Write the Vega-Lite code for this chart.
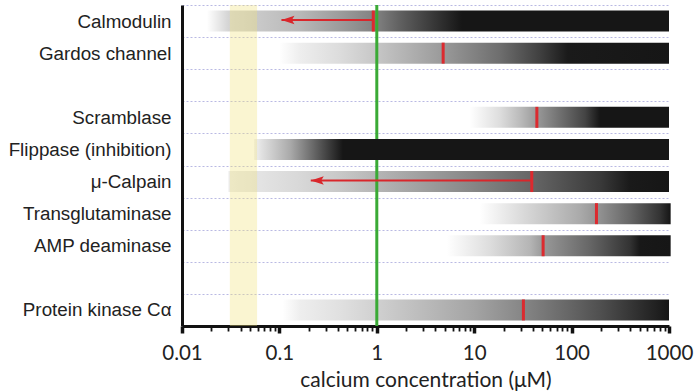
{
  "$schema": "https://vega.github.io/schema/vega-lite/v6.json",
  "width": 487,
  "height": 321,
  "autosize": {"type": "none"},
  "padding": {"left": 182, "top": 5, "right": 25, "bottom": 66},
  "background": "white",
  "config": {
    "view": {"stroke": null},
    "axisX": {
      "labelFont": "Lato", "labelFontSize": 20.5, "labelColor": "#222",
      "titleFont": "Lato", "titleFontSize": 21, "titleColor": "#222", "titleFontWeight": "normal",
      "domainColor": "#111", "domainWidth": 3, "tickColor": "#111", "grid": false, "labelFlush": false
    },
    "axisY": {
      "labelFont": "Liberation Sans", "labelFontSize": 18.8, "labelColor": "#222",
      "domainColor": "#111", "domainWidth": 3, "ticks": false, "labelPadding": 11,
      "grid": true, "gridColor": "#a8a8dc", "gridDash": [2, 2], "gridWidth": 1, "gridOpacity": 0.8
    }
  },
  "datasets": {
    "enzymes": [
      {"enzyme": "Calmodulin", "start": 0.018, "end": 1000, "tick": 0.92, "arrowTo": 0.105},
      {"enzyme": "Gardos channel", "start": 0.1, "end": 1000, "tick": 4.8, "arrowTo": null},
      {"enzyme": "Scramblase", "start": 9, "end": 1000, "tick": 44, "arrowTo": null},
      {"enzyme": "Flippase (inhibition)", "start": 0.055, "end": 1000, "tick": null, "arrowTo": null},
      {"enzyme": "μ-Calpain", "start": 0.03, "end": 1000, "tick": 39, "arrowTo": 0.21},
      {"enzyme": "Transglutaminase", "start": 11.4, "end": 1040, "tick": 180, "arrowTo": null},
      {"enzyme": "AMP deaminase", "start": 5.2, "end": 1040, "tick": 51, "arrowTo": null},
      {"enzyme": "Protein kinase Cα", "start": 0.108, "end": 1000, "tick": 32, "arrowTo": null}
    ],
    "resting": [{"calcium": 1}],
    "band": [{"from": 0.031, "to": 0.059}]
  },
  "layer": [
    {
      "data": {"name": "enzymes"},
      "transform": [{"filter": "datum.enzyme === 'Calmodulin'"}],
      "mark": {"type": "bar", "size": 21, "color": {"gradient": "linear", "stops": [
        {"offset": 0, "color": "#ffffff"}, {"offset": 0.046, "color": "#d5d5d5"},
        {"offset": 0.201, "color": "#b8b8b8"}, {"offset": 0.288, "color": "#9c9c9c"},
        {"offset": 0.368, "color": "#808080"}, {"offset": 0.418, "color": "#606060"},
        {"offset": 0.552, "color": "#161616"}, {"offset": 1, "color": "#161616"}]}},
      "encoding": {
        "x": {"field": "start", "type": "quantitative",
          "scale": {"type": "log", "domain": [0.01, 1000], "nice": false},
          "axis": {
            "title": "calcium concentration (μM)",
            "values": [0.01,0.02,0.03,0.04,0.05,0.06,0.07,0.08,0.09,0.1,0.2,0.3,0.4,0.5,0.6,0.7,0.8,0.9,1,2,3,4,5,6,7,8,9,10,20,30,40,50,60,70,80,90,100,200,300,400,500,600,700,800,900,1000],
            "labelExpr": "indexof([0.01,0.1,1,10,100,1000], datum.value) >= 0 ? toString(datum.value) : ''",
            "tickSize": {"condition": {"test": "indexof([0.01,0.1,1,10,100,1000], datum.value) >= 0", "value": 7}, "value": 5},
            "tickWidth": {"condition": {"test": "indexof([0.01,0.1,1,10,100,1000], datum.value) >= 0", "value": 3.5}, "value": 1.8},
            "labelPadding": 10,
            "titlePadding": 6,
            "labelOverlap": false
          }},
        "x2": {"field": "end"},
        "y": {"field": "enzyme", "type": "nominal", "title": null,
          "scale": {"domain": ["Calmodulin", "Gardos channel", " ", "Scramblase", "Flippase (inhibition)", "μ-Calpain", "Transglutaminase", "AMP deaminase", "  ", "Protein kinase Cα"], "paddingInner": 0, "paddingOuter": 0},
          "axis": {"tickBand": "extent"}}
      }
    },
    {
      "data": {"name": "enzymes"},
      "transform": [{"filter": "datum.enzyme === 'Gardos channel'"}],
      "mark": {"type": "bar", "size": 21, "color": {"gradient": "linear", "stops": [
        {"offset": 0, "color": "#ffffff"}, {"offset": 0.052, "color": "#eeeeee"},
        {"offset": 0.155, "color": "#dcdcdc"}, {"offset": 0.25, "color": "#c6c6c6"},
        {"offset": 0.419, "color": "#9a9a9a"}, {"offset": 0.566, "color": "#6e6e6e"},
        {"offset": 0.668, "color": "#404040"}, {"offset": 0.74, "color": "#1a1a1a"},
        {"offset": 1, "color": "#161616"}]}},
      "encoding": {
        "x": {"field": "start", "type": "quantitative"},
        "x2": {"field": "end"},
        "y": {"field": "enzyme", "type": "nominal"}
      }
    },
    {
      "data": {"name": "enzymes"},
      "transform": [{"filter": "datum.enzyme === 'Scramblase'"}],
      "mark": {"type": "bar", "size": 21, "color": {"gradient": "linear", "stops": [
        {"offset": 0, "color": "#ffffff"}, {"offset": 0.152, "color": "#dddddd"},
        {"offset": 0.252, "color": "#bbbbbb"}, {"offset": 0.338, "color": "#999999"},
        {"offset": 0.453, "color": "#707070"}, {"offset": 0.579, "color": "#444444"},
        {"offset": 0.654, "color": "#161616"}, {"offset": 1, "color": "#161616"}]}},
      "encoding": {
        "x": {"field": "start", "type": "quantitative"},
        "x2": {"field": "end"},
        "y": {"field": "enzyme", "type": "nominal"}
      }
    },
    {
      "data": {"name": "enzymes"},
      "transform": [{"filter": "datum.enzyme === 'μ-Calpain'"}],
      "mark": {"type": "bar", "size": 21, "color": {"gradient": "linear", "stops": [
        {"offset": 0, "color": "#ececec"}, {"offset": 0.162, "color": "#d8d8d8"},
        {"offset": 0.253, "color": "#c8c8c8"}, {"offset": 0.389, "color": "#aaaaaa"},
        {"offset": 0.548, "color": "#888888"}, {"offset": 0.689, "color": "#666666"},
        {"offset": 0.843, "color": "#3a3a3a"}, {"offset": 0.911, "color": "#1a1a1a"},
        {"offset": 1, "color": "#161616"}]}},
      "encoding": {
        "x": {"field": "start", "type": "quantitative"},
        "x2": {"field": "end"},
        "y": {"field": "enzyme", "type": "nominal"}
      }
    },
    {
      "data": {"name": "enzymes"},
      "transform": [{"filter": "datum.enzyme === 'Transglutaminase'"}],
      "mark": {"type": "bar", "size": 21, "color": {"gradient": "linear", "stops": [
        {"offset": 0, "color": "#ffffff"}, {"offset": 0.211, "color": "#dcdcdc"},
        {"offset": 0.525, "color": "#aaaaaa"}, {"offset": 0.614, "color": "#959595"},
        {"offset": 0.787, "color": "#666666"}, {"offset": 0.944, "color": "#333333"},
        {"offset": 1, "color": "#151515"}]}},
      "encoding": {
        "x": {"field": "start", "type": "quantitative"},
        "x2": {"field": "end"},
        "y": {"field": "enzyme", "type": "nominal"}
      }
    },
    {
      "data": {"name": "enzymes"},
      "transform": [{"filter": "datum.enzyme === 'AMP deaminase'"}],
      "mark": {"type": "bar", "size": 21, "color": {"gradient": "linear", "stops": [
        {"offset": 0, "color": "#ffffff"}, {"offset": 0.194, "color": "#dddddd"},
        {"offset": 0.372, "color": "#b5b5b5"}, {"offset": 0.43, "color": "#999999"},
        {"offset": 0.64, "color": "#666666"}, {"offset": 0.818, "color": "#333333"},
        {"offset": 0.863, "color": "#181818"}, {"offset": 1, "color": "#161616"}]}},
      "encoding": {
        "x": {"field": "start", "type": "quantitative"},
        "x2": {"field": "end"},
        "y": {"field": "enzyme", "type": "nominal"}
      }
    },
    {
      "data": {"name": "enzymes"},
      "transform": [{"filter": "datum.enzyme === 'Protein kinase Cα'"}],
      "mark": {"type": "bar", "size": 21, "color": {"gradient": "linear", "stops": [
        {"offset": 0, "color": "#ffffff"}, {"offset": 0.045, "color": "#eeeeee"},
        {"offset": 0.149, "color": "#e0e0e0"}, {"offset": 0.244, "color": "#d0d0d0"},
        {"offset": 0.495, "color": "#a4a4a4"}, {"offset": 0.625, "color": "#858585"},
        {"offset": 0.746, "color": "#656565"}, {"offset": 0.821, "color": "#505050"},
        {"offset": 0.925, "color": "#2e2e2e"}, {"offset": 1, "color": "#161616"}]}},
      "encoding": {
        "x": {"field": "start", "type": "quantitative"},
        "x2": {"field": "end"},
        "y": {"field": "enzyme", "type": "nominal"}
      }
    },
    {
      "data": {"name": "resting"},
      "mark": {"type": "rule", "color": "#3aaa35", "strokeWidth": 3},
      "encoding": {
        "x": {"field": "calcium", "type": "quantitative"}
      }
    },
    {
      "data": {"name": "enzymes"},
      "transform": [{"filter": "datum.enzyme === 'Flippase (inhibition)'"}],
      "mark": {"type": "bar", "size": 21, "color": {"gradient": "linear", "stops": [
        {"offset": 0, "color": "#f2f2f2"}, {"offset": 0.019, "color": "#e0e0e0"},
        {"offset": 0.087, "color": "#aaaaaa"}, {"offset": 0.159, "color": "#555555"},
        {"offset": 0.214, "color": "#161616"}, {"offset": 1, "color": "#161616"}]}},
      "encoding": {
        "x": {"field": "start", "type": "quantitative"},
        "x2": {"field": "end"},
        "y": {"field": "enzyme", "type": "nominal"}
      }
    },
    {
      "data": {"name": "band"},
      "mark": {"type": "rect", "color": "#f2e27a", "opacity": 0.35},
      "encoding": {
        "x": {"field": "from", "type": "quantitative"},
        "x2": {"field": "to"}
      }
    },
    {
      "data": {"name": "enzymes"},
      "transform": [{"filter": "datum.arrowTo != null"}],
      "mark": {"type": "rule", "color": "#d9262b", "strokeWidth": 2, "yOffset": -1},
      "encoding": {
        "x": {"field": "arrowTo", "type": "quantitative"},
        "x2": {"field": "tick"},
        "y": {"field": "enzyme", "type": "nominal"}
      }
    },
    {
      "data": {"name": "enzymes"},
      "transform": [{"filter": "datum.arrowTo != null"}],
      "mark": {"type": "point", "shape": "M0,0 L2,-0.65 L1.6,0 L2,0.65 Z", "size": 169, "filled": true, "color": "#d9262b", "opacity": 1, "yOffset": -1},
      "encoding": {
        "x": {"field": "arrowTo", "type": "quantitative"},
        "y": {"field": "enzyme", "type": "nominal"}
      }
    },
    {
      "data": {"name": "enzymes"},
      "transform": [{"filter": "datum.tick != null"}],
      "mark": {"type": "tick", "color": "#dc2a2f", "thickness": 3, "size": 21, "opacity": 1},
      "encoding": {
        "x": {"field": "tick", "type": "quantitative"},
        "y": {"field": "enzyme", "type": "nominal"}
      }
    }
  ]
}
